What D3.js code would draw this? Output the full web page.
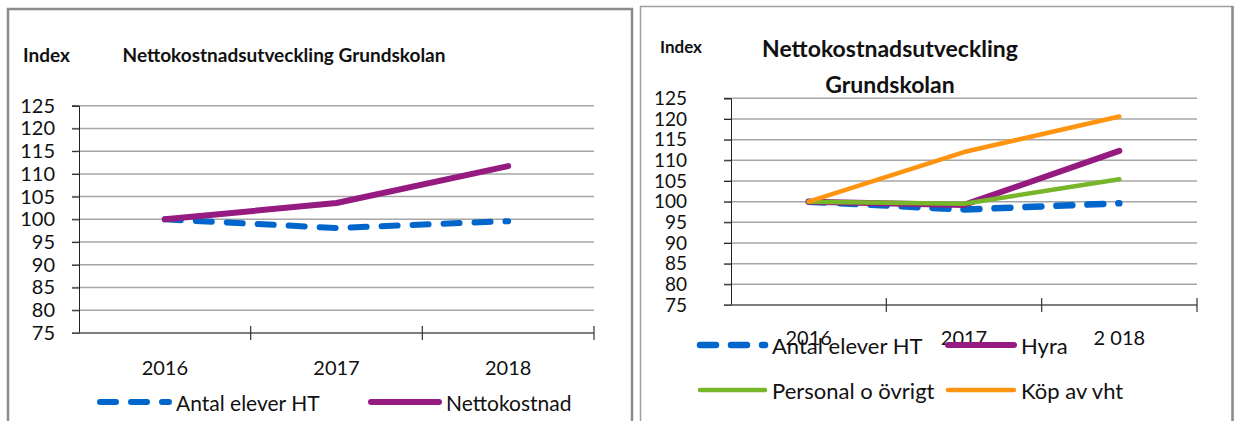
<!DOCTYPE html>
<html>
<head>
<meta charset="utf-8">
<script src="https://cdn.jsdelivr.net/npm/d3@7"></script>
<style>
  body { margin: 0; background: #fff; }
  text { font-family: Lato, "Liberation Sans", sans-serif; fill: #111; }
</style>
</head>
<body>
<div id="chart"></div>
<script>
// data
var yTicks = [75, 80, 85, 90, 95, 100, 105, 110, 115, 120, 125];
var yearsLeft = ["2016", "2017", "2018"];
var yearsRight = ["2016", "2017", "2 018"];

var antalElever = [100, 98.1, 99.6];
var nettokostnad = [100, 103.6, 111.7];
var hyra = [100, 99.2, 112.3];
var personal = [100, 99.5, 105.4];
var kopAvVht = [100, 112, 120.6];

var colors = {blue: "#0066cc", purple: "#951b81", green: "#77b52a", orange: "#ff9410"};

var svg = d3.select("#chart").append("svg")
    .attr("width", 1234)
    .attr("height", 421);

// panel frames
svg.append("rect")
    .attr("x", 8).attr("y", 9).attr("width", 624).attr("height", 430)
    .attr("fill", "none").attr("stroke", "#8c8c8c").attr("stroke-width", 2.5);
svg.append("path")
    .attr("d", "M640.5,421V6.5H1232.5V421")
    .attr("fill", "none").attr("stroke", "#a0a0a0").attr("stroke-width", 1.5);
svg.append("line")
    .attr("x1", 1232.5).attr("x2", 1232.5).attr("y1", 6).attr("y2", 421)
    .attr("stroke", "#8c8c8c").attr("stroke-width", 2.5);

function drawPanel(cfg) {
    var x = d3.scaleBand().domain(cfg.cats).range([cfg.left, cfg.right]);
    var y = d3.scaleLinear().domain([75, 125]).range([cfg.bottom, cfg.top]);
    var g = svg.append("g");

    // gridlines
    g.selectAll(".grid").data(yTicks.slice(1)).enter().append("line")
        .attr("x1", cfg.left - 7).attr("x2", cfg.right)
        .attr("y1", function(d) { return y(d); })
        .attr("y2", function(d) { return y(d); })
        .attr("stroke", "#a6a6a6").attr("stroke-width", 1.5);

    // y axis
    var yAxis = g.append("g")
        .attr("transform", "translate(" + cfg.left + ",0)")
        .call(d3.axisLeft(y).tickValues(yTicks).tickSize(7).tickPadding(cfg.yPad));
    yAxis.select(".domain").attr("stroke", "#222");
    yAxis.selectAll(".tick line").attr("stroke", "#222");
    yAxis.selectAll("text").style("font-size", cfg.yFont + "px")
        .style("font-family", "Lato, sans-serif").attr("fill", "#111");

    // x axis
    g.append("line")
        .attr("x1", cfg.left - 7).attr("x2", cfg.right)
        .attr("y1", cfg.bottom).attr("y2", cfg.bottom)
        .attr("stroke", "#555").attr("stroke-width", 1.5);
    g.selectAll(".xtick").data(cfg.cats).enter().append("line")
        .attr("x1", function(d) { return x(d) + x.bandwidth(); })
        .attr("x2", function(d) { return x(d) + x.bandwidth(); })
        .attr("y1", cfg.bottom - 7).attr("y2", cfg.bottom + 7)
        .attr("stroke", "#333").attr("stroke-width", 1.2);
    g.selectAll(".xlab").data(cfg.cats).enter().append("text")
        .attr("x", function(d) { return x(d) + x.bandwidth() / 2; })
        .attr("y", cfg.xLabelY)
        .attr("text-anchor", "middle")
        .attr("dominant-baseline", "central")
        .style("font-size", cfg.xFont + "px")
        .text(function(d) { return d; });

    var line = d3.line()
        .x(function(d, i) { return x(cfg.cats[i]) + x.bandwidth() / 2; })
        .y(function(d) { return y(d); });

    cfg.series.forEach(function(s) {
        g.append("path")
            .datum(s.values)
            .attr("d", line)
            .attr("fill", "none")
            .attr("stroke", s.color)
            .attr("stroke-width", s.width)
            .attr("stroke-linecap", "round")
            .attr("stroke-linejoin", "round")
            .attr("stroke-dasharray", s.dashed ? "16,15" : null);
    });

    // legend
    cfg.legend.forEach(function(l) {
        var s = cfg.series[l.idx];
        g.append("line")
            .attr("x1", l.x + 3).attr("x2", l.x + l.len - 3)
            .attr("y1", l.y).attr("y2", l.y)
            .attr("stroke", s.color)
            .attr("stroke-width", s.width)
            .attr("stroke-linecap", "round")
            .attr("stroke-dasharray", s.dashed ? "16,15" : null);
        g.append("text")
            .attr("x", l.x + l.len + 4).attr("y", l.y)
            .attr("dominant-baseline", "central")
            .style("font-size", cfg.legFont + "px")
            .text(s.name);
    });

    // titles
    g.append("text")
        .attr("x", cfg.indexX).attr("y", cfg.indexY)
        .attr("dominant-baseline", "central")
        .style("font-size", cfg.indexFont + "px").style("font-weight", "bold")
        .text("Index");
    cfg.title.forEach(function(t) {
        g.append("text")
            .attr("x", t.x).attr("y", t.y)
            .attr("text-anchor", "middle")
            .attr("dominant-baseline", "central")
            .style("font-size", t.size + "px").style("font-weight", "bold")
            .text(t.text);
    });
}

drawPanel({
    cats: yearsLeft,
    left: 79, right: 594, top: 105.7, bottom: 333,
    yPad: 17, yFont: 20, xFont: 20, xLabelY: 367, legFont: 21,
    series: [
        {name: "Antal elever HT", values: antalElever, color: colors.blue, width: 6, dashed: true},
        {name: "Nettokostnad", values: nettokostnad, color: colors.purple, width: 6}
    ],
    legend: [
        {idx: 0, x: 97, y: 402, len: 75},
        {idx: 1, x: 368, y: 402, len: 74}
    ],
    indexX: 23, indexY: 54, indexFont: 19,
    title: [{text: "Nettokostnadsutveckling Grundskolan", x: 284, y: 54, size: 19}]
});

drawPanel({
    cats: yearsRight,
    left: 731, right: 1197, top: 98.3, bottom: 305,
    yPad: 37, yFont: 19, xFont: 20, xLabelY: 337, legFont: 22,
    series: [
        {name: "Antal elever HT", values: antalElever, color: colors.blue, width: 6.5, dashed: true},
        {name: "Hyra", values: hyra, color: colors.purple, width: 6},
        {name: "Personal o övrigt", values: personal, color: colors.green, width: 4.5},
        {name: "Köp av vht", values: kopAvVht, color: colors.orange, width: 4.5}
    ],
    legend: [
        {idx: 0, x: 697, y: 345, len: 71},
        {idx: 1, x: 945, y: 345, len: 72},
        {idx: 2, x: 697, y: 390, len: 71},
        {idx: 3, x: 945, y: 390, len: 72}
    ],
    indexX: 660, indexY: 46, indexFont: 17,
    title: [
        {text: "Nettokostnadsutveckling", x: 890, y: 48, size: 23},
        {text: "Grundskolan", x: 890, y: 84, size: 23}
    ]
});
</script>
</body>
</html>
